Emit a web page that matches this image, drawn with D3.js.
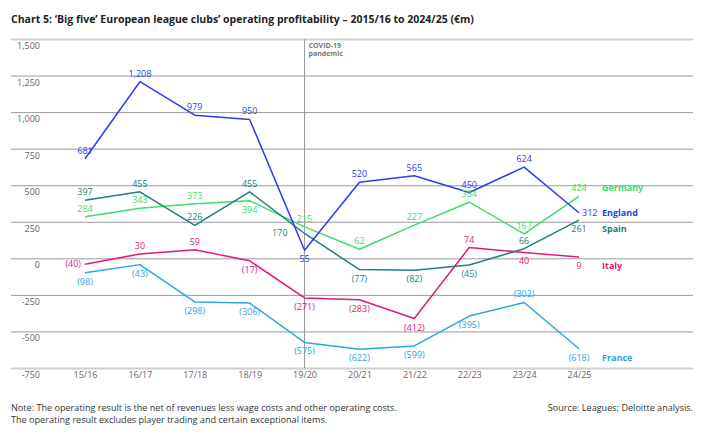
<!DOCTYPE html>
<html lang="en">
<head>
<meta charset="utf-8">
<title>Big five operating profitability</title>
<script src="https://d3js.org/d3.v7.min.js"></script>
<style>
* { margin: 0; padding: 0; }
body { background: #fff; font-family: 'Open Sans', sans-serif; }
</style>
</head>
<body>
<script>
// seasons and series values (€m)
const seasons = ["15/16","16/17","17/18","18/19","19/20","20/21","21/22","22/23","23/24","24/25"];
const england = [681, 1208, 979, 950, 55, 520, 565, 450, 624, 312];
const germany = [284, 343, 373, 394, 215, 62, 227, 384, 167, 424];
const spain   = [397, 455, 226, 455, 170, -77, -82, -45, 66, 261];
const italy   = [-40, 30, 59, -17, -271, -283, -412, 74, 40, 9];
const france  = [-98, -43, -298, -306, -575, -622, -599, -395, -302, -618];
const yTicks  = [-750, -500, -250, 0, 250, 500, 750, 1000, 1250, 1500];

// where each value label sits: a = above, b = below, l = left, r = right
const englandSide = ["a","a","a","a","b","a","a","a","a","r"];
const germanySide = ["a","a","a","b","a","a","a","a","a","a"];
const spainSide   = ["a","a","a","a","l","b","b","b","a","b"];
const italySide   = ["l","a","a","b","b","b","b","a","b","b"];
const franceSide  = ["b","b","b","b","b","b","b","b","a","b"];

const series = [
  {name: "Germany", values: germany, side: germanySide, color: "#3ddc6c"},
  {name: "Spain",   values: spain,   side: spainSide,   color: "#1e7f80"},
  {name: "Italy",   values: italy,   side: italySide,   color: "#e2187b"},
  {name: "France",  values: france,  side: franceSide,  color: "#2aa6e0"},
  {name: "England", values: england, side: englandSide, color: "#2b3cf2"}
];

let w = 720, h = 437;
let plotLeft = 11, plotRight = 693, plotTop = 39, plotBottom = 368;

let svg = d3.select("body").append("svg")
  .attr("width", w).attr("height", h)
  .style("font-family", "'Open Sans', sans-serif");

let x = d3.scalePoint().domain(seasons).range([85, 579]);
let y = d3.scaleLinear().domain([-750, 1500]).range([plotBottom, plotTop]);

// plain hyphen for negatives, like the original
let locale = d3.formatLocale({decimal: ".", thousands: ",", grouping: [3], currency: ["", ""], minus: "-"});
let comma = locale.format(",");

// title
svg.append("text")
  .attr("x", 11).attr("y", 23)
  .attr("font-size", 10.5).attr("font-weight", "bold").attr("fill", "#222")
  .text("Chart 5: \u2018Big five\u2019 European league clubs\u2019 operating profitability \u2013 2015/16 to 2024/25 (\u20acm)");

// y axis with gridlines
let yAxis = svg.append("g")
  .attr("transform", `translate(${plotRight},0)`)
  .call(d3.axisLeft(y).tickValues(yTicks).tickFormat(comma).tickSize(plotRight - plotLeft).tickPadding(0));
yAxis.select(".domain").remove();
yAxis.selectAll(".tick line")
  .attr("stroke", d => (d === 1500 || d === -750) ? "#cfcfcf" : "#9a9a9a")
  .attr("stroke-width", d => (d === 1500 || d === -750) ? 2 : 1);
yAxis.selectAll(".tick text")
  .attr("x", -(plotRight - 40)).attr("dy", "1.05em")
  .attr("font-size", 9).attr("fill", "#666")
  .style("font-family", "'Open Sans', sans-serif");

// covid marker
svg.append("line")
  .attr("x1", x("19/20")).attr("x2", x("19/20"))
  .attr("y1", plotTop).attr("y2", plotBottom)
  .attr("stroke", "#999").attr("stroke-width", 1);
svg.append("text")
  .attr("x", x("19/20") + 4).attr("y", 48)
  .attr("font-size", 7).attr("font-weight", "bold").attr("fill", "#777")
  .selectAll("tspan").data(["COVID-19", "pandemic"]).enter().append("tspan")
  .attr("x", x("19/20") + 4).attr("dy", (d, i) => i ? 8 : 0).text(d => d);

// x axis labels
let xAxis = svg.append("g")
  .attr("transform", `translate(0,${plotBottom})`)
  .call(d3.axisBottom(x).tickSize(0).tickPadding(4));
xAxis.select(".domain").remove();
xAxis.selectAll(".tick text")
  .attr("font-size", 9).attr("fill", "#666")
  .style("font-family", "'Open Sans', sans-serif");

// lines
let line = d3.line().x((d, i) => x(seasons[i])).y(d => y(d));

series.forEach(s => {
  svg.append("path")
    .datum(s.values)
    .attr("d", line)
    .attr("fill", "none")
    .attr("stroke", s.color)
    .attr("stroke-width", 1.5)
    .attr("stroke-linejoin", "round");
});

// value labels, negatives in brackets
let fmt = v => v < 0 ? `(${comma(-v)})` : comma(v);
let labelY = (v, side) => side === "a" ? y(v) - 5 : side === "b" ? y(v) + 12 : y(v) + 3;

series.forEach(s => {
  svg.append("g").selectAll("text")
    .data(s.values).enter().append("text")
    .attr("font-size", 9)
    .attr("fill", s.color)
    .attr("x", (d, i) => {
      let px = x(seasons[i]);
      if (s.side[i] === "l") return px - (s.name === "Spain" ? 17 : 4);
      if (s.side[i] === "r") return px + 3;
      return px;
    })
    .attr("y", (d, i) => labelY(d, s.side[i]))
    .attr("text-anchor", (d, i) => s.side[i] === "l" ? "end" : s.side[i] === "r" ? "start" : "middle")
    .text(d => fmt(d));

  // series name at right, aligned with last value label
  let last = s.values.length - 1;
  svg.append("text")
    .attr("x", 602).attr("y", labelY(s.values[last], s.side[last]))
    .attr("font-size", 9).attr("font-weight", "bold")
    .attr("fill", s.color)
    .text(s.name);
});

// notes
svg.append("text")
  .attr("x", 11).attr("y", 411)
  .attr("font-size", 9.1).attr("fill", "#333")
  .text("Note: The operating result is the net of revenues less wage costs and other operating costs.");
svg.append("text")
  .attr("x", 11).attr("y", 423)
  .attr("font-size", 9.1).attr("fill", "#333")
  .text("The operating result excludes player trading and certain exceptional items.");
svg.append("text")
  .attr("x", plotRight).attr("y", 411).attr("text-anchor", "end")
  .attr("font-size", 9.1).attr("fill", "#333")
  .text("Source: Leagues; Deloitte analysis.");
</script>
</body>
</html>
